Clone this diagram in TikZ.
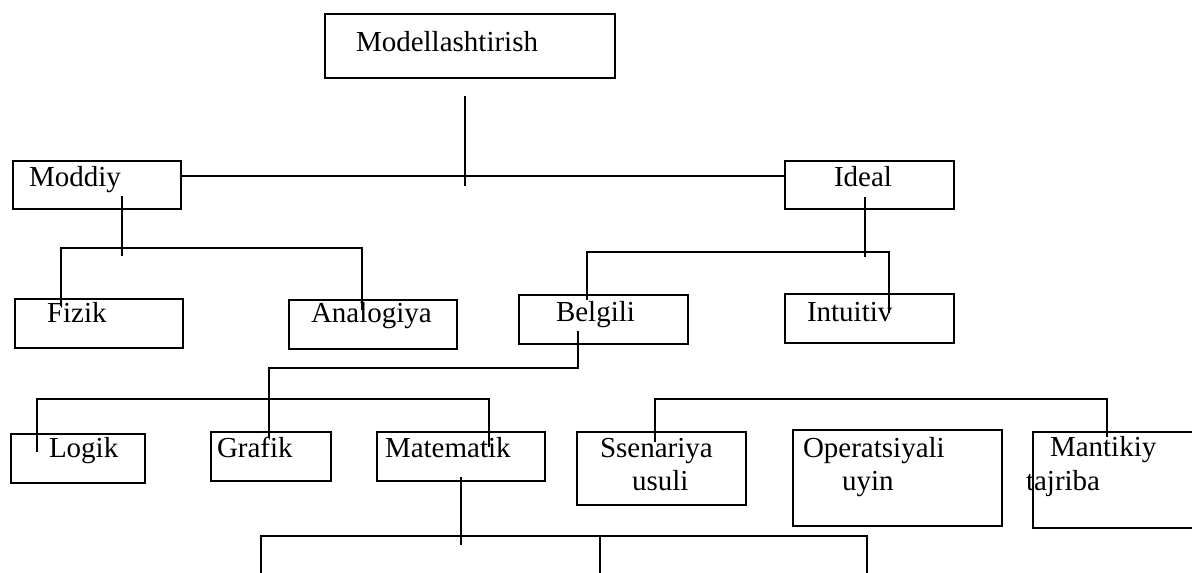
\documentclass[tikz,border=0pt]{standalone}
\usepackage{fontspec}
\setmainfont{Liberation Serif}
\begin{document}
\begin{tikzpicture}[x=0.5pt,y=-0.5pt,
  box/.style={draw=black,line width=0.9pt,rectangle,inner sep=0pt,outer sep=0pt,anchor=north west},
  lbl/.style={anchor=base west,inner sep=0pt,outer sep=0pt,font=\fontsize{14.5}{17}\selectfont,text=black},
  conn/.style={draw=black,line width=0.9pt}]
\useasboundingbox (0,0) rectangle (1192,572);
\clip (0,0) rectangle (1192,572);
\fill[white] (0,0) rectangle (1192,572);
% boxes
\node[box,minimum width=145pt,minimum height=32pt] (model) at (325,14) {};
\node[box,minimum width=84pt,minimum height=24pt] (moddiy) at (13,161) {};
\node[box,minimum width=84.5pt,minimum height=24pt] (ideal) at (785,161) {};
\node[box,minimum width=84pt,minimum height=24.5pt] (fizik) at (15,299) {};
\node[box,minimum width=84pt,minimum height=24.5pt] (analog) at (289,300) {};
\node[box,minimum width=84.5pt,minimum height=24.5pt] (belgili) at (519,295) {};
\node[box,minimum width=84.5pt,minimum height=24.5pt] (intuit) at (785,294) {};
\node[box,minimum width=67pt,minimum height=24.5pt] (logik) at (11,434) {};
\node[box,minimum width=60pt,minimum height=24.5pt] (grafik) at (211,432) {};
\node[box,minimum width=84pt,minimum height=24.5pt] (matem) at (377,432) {};
\node[box,minimum width=84.5pt,minimum height=36.5pt] (ssen) at (577,432) {};
\node[box,minimum width=104.5pt,minimum height=48pt] (oper) at (793,430) {};
\node[box,minimum width=90pt,minimum height=48pt] (mant) at (1033,432) {};
% texts
\node[lbl] (tmodel) at (356,52) {Modellashtirish};
\node[lbl] (tmoddiy) at (29,187) {Moddiy};
\node[lbl] (tideal) at (834,187) {Ideal};
\node[lbl] (tfizik) at (47,322) {Fizik};
\node[lbl] (tanalog) at (311,322) {Analogiya};
\node[lbl] (tbelgili) at (556,321) {Belgili};
\node[lbl] (tintuit) at (807,321) {Intuitiv};
\node[lbl] (tlogik) at (49,457) {Logik};
\node[lbl] (tgrafik) at (217,457) {Grafik};
\node[lbl] (tmatem) at (385,457) {Matematik};
\node[lbl] (tssen1) at (600,457) {Ssenariya};
\node[lbl] (tssen2) at (632,490) {usuli};
\node[lbl] (toper1) at (803,457) {Operatsiyali};
\node[lbl] (toper2) at (842,490) {uyin};
\node[lbl] (tmant1) at (1050,456) {Mantikiy};
\node[lbl] (tmant2) at (1026,490) {tajriba};
% coordinates
\coordinate (a1) at (465,96);  \coordinate (a2) at (465,186);
\coordinate (b1) at (122,196); \coordinate (b2) at (122,256);
\coordinate (b3) at (61,248);  \coordinate (b4) at (362,248);
\coordinate (b5) at (61,306);  \coordinate (b6) at (362,310);
\coordinate (c1) at (865,197); \coordinate (c2) at (865,257);
\coordinate (c3) at (587,252); \coordinate (c4) at (889,252);
\coordinate (c5) at (587,300); \coordinate (c6) at (889,313);
\coordinate (d1) at (578,331); \coordinate (d2) at (578,368);
\coordinate (d3) at (269,368); \coordinate (d4) at (269,438);
\coordinate (e1) at (37,399);  \coordinate (e2) at (489,399);
\coordinate (e3) at (37,452);  \coordinate (e4) at (489,447);
\coordinate (f1) at (655,399); \coordinate (f2) at (1107,399);
\coordinate (f3) at (655,442); \coordinate (f4) at (1107,437);
\coordinate (g1) at (461,477); \coordinate (g2) at (461,545);
\coordinate (h1) at (261,536); \coordinate (h2) at (867,536);
\coordinate (h3) at (261,580); \coordinate (h4) at (600,536);
\coordinate (h5) at (600,580); \coordinate (h6) at (867,580);
% connectors
\draw[conn] (a1) -- (a2);
\draw[conn] (moddiy.east |- 0,176) -- (ideal.west |- 0,176);
\draw[conn] (b1) -- (b2);
\draw[conn] (b5) -- (b3) -- (b4) -- (b6);
\draw[conn] (c1) -- (c2);
\draw[conn] (c5) -- (c3) -- (c4) -- (c6);
\draw[conn] (d1) -- (d2) -- (d3) -- (d4);
\draw[conn] (e3) -- (e1) -- (e2) -- (e4);
\draw[conn] (f3) -- (f1) -- (f2) -- (f4);
\draw[conn] (g1) -- (g2);
\draw[conn] (h3) -- (h1) -- (h2) -- (h6);
\draw[conn] (h4) -- (h5);
\end{tikzpicture}
\end{document}
